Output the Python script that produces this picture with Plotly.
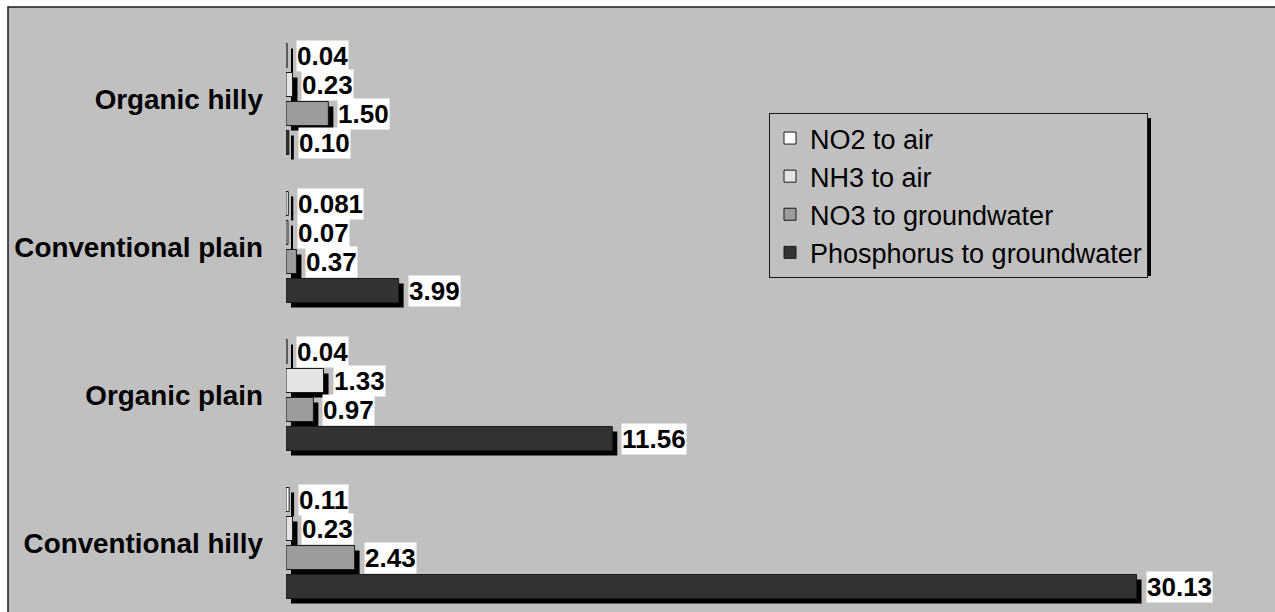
import plotly.graph_objects as go

# Emission categories, listed top to bottom
categories = ["Organic hilly", "Conventional plain", "Organic plain", "Conventional hilly"]

# Series values per category
series_names = ["NO2 to air", "NH3 to air", "NO3 to groundwater", "Phosphorus to groundwater"]
no2_air = [0.04, 0.081, 0.04, 0.11]
nh3_air = [0.23, 0.07, 1.33, 0.23]
no3_groundwater = [1.50, 0.37, 0.97, 2.43]
phosphorus_groundwater = [0.10, 3.99, 11.56, 30.13]

series_values = [no2_air, nh3_air, no3_groundwater, phosphorus_groundwater]
series_colors = ["#ffffff", "#e4e4e4", "#9c9c9c", "#333333"]

# Figure geometry (pixels)
W, H = 1275, 612
M_L, M_R, M_T, M_B = 286, 1, 25, 0
PLOT_W = W - M_L - M_R
PLOT_H = H - M_T - M_B
X_MAX = 35
PX_PER_X = PLOT_W / X_MAX
PX_PER_CAT = 148
Y_TOP = -0.5
Y_BOTTOM = Y_TOP + PLOT_H / PX_PER_CAT

SLOT = 29 / PX_PER_CAT          # distance between bars in a group
BAR_W = 24 / PX_PER_CAT         # bar thickness
SHADOW_PX = 5
SHADOW_DX = SHADOW_PX / PX_PER_X
SHADOW_DY = SHADOW_PX / PX_PER_CAT

FONT = "Liberation Sans, Arial, sans-serif"


def fmt(v):
    s = f"{v:.2f}"
    return s if abs(float(s) - v) < 1e-9 else repr(v)


def positions(j):
    return [i + (j - 1.5) * SLOT for i in range(len(categories))]


fig = go.Figure()

# drop shadows behind the bars
for j, vals in enumerate(series_values):
    fig.add_trace(go.Bar(
        orientation="h",
        x=vals,
        base=[SHADOW_DX] * len(vals),
        y=[p + SHADOW_DY for p in positions(j)],
        width=BAR_W,
        marker=dict(color="#000000", line=dict(width=0)),
        showlegend=False,
        hoverinfo="skip",
    ))

# the bars themselves
for j, (name, vals) in enumerate(zip(series_names, series_values)):
    fig.add_trace(go.Bar(
        orientation="h",
        name=name,
        x=vals,
        y=positions(j),
        width=BAR_W,
        marker=dict(color=series_colors[j], line=dict(color="#1a1a1a", width=1)),
    ))

# value labels in white boxes; lower series first so upper labels sit on top
annotations = []
for j in reversed(range(len(series_values))):
    vals = series_values[j]
    for v, p in zip(vals, positions(j)):
        annotations.append(dict(
            x=v, y=p, xref="x", yref="y",
            text=fmt(v),
            showarrow=False,
            xanchor="left", yanchor="middle",
            xshift=SHADOW_PX + 4,
            bgcolor="#ffffff",
            borderpad=0,
            font=dict(family=FONT, size=26, color="#000000", weight="bold"),
        ))

shapes = [
    # grey chart area with its frame
    dict(type="rect", xref="paper", yref="paper", layer="below",
         x0=(8 - M_L) / PLOT_W, x1=1.02,
         y0=-0.02, y1=(H - 7) / PLOT_H,
         fillcolor="#c0c0c0", line=dict(color="#1a1a1a", width=1.5)),
    # legend drop shadow
    dict(type="rect", xref="paper", yref="paper", layer="below",
         x0=(774 - M_L) / PLOT_W, x1=(1151 - M_L) / PLOT_W,
         y0=(H - 276) / PLOT_H, y1=(H - 118) / PLOT_H,
         fillcolor="#000000", line=dict(width=0)),
]

fig.update_layout(
    width=W, height=H,
    margin=dict(l=M_L, r=M_R, t=M_T, b=M_B, autoexpand=False),
    paper_bgcolor="#ffffff",
    plot_bgcolor="rgba(0,0,0,0)",
    barmode="overlay",
    font=dict(family=FONT, color="#000000"),
    xaxis=dict(range=[0, X_MAX], visible=False, fixedrange=True),
    yaxis=dict(
        range=[Y_BOTTOM, Y_TOP],
        tickvals=list(range(len(categories))),
        ticktext=categories,
        showgrid=False, zeroline=False, showline=False, ticks="",
        ticklabelstandoff=22,
        tickfont=dict(family=FONT, size=27.8, color="#000000", weight="bold"),
        fixedrange=True,
    ),
    legend=dict(
        x=(769 - M_L) / PLOT_W, y=(H - 113) / PLOT_H,
        xanchor="left", yanchor="top",
        bgcolor="#c0c0c0", bordercolor="#1a1a1a", borderwidth=1,
        font=dict(family=FONT, size=27, color="#000000"),
        traceorder="normal",
        itemclick=False, itemdoubleclick=False,
    ),
    annotations=annotations,
    shapes=shapes,
    showlegend=True,
)

fig.write_html("out.html")
